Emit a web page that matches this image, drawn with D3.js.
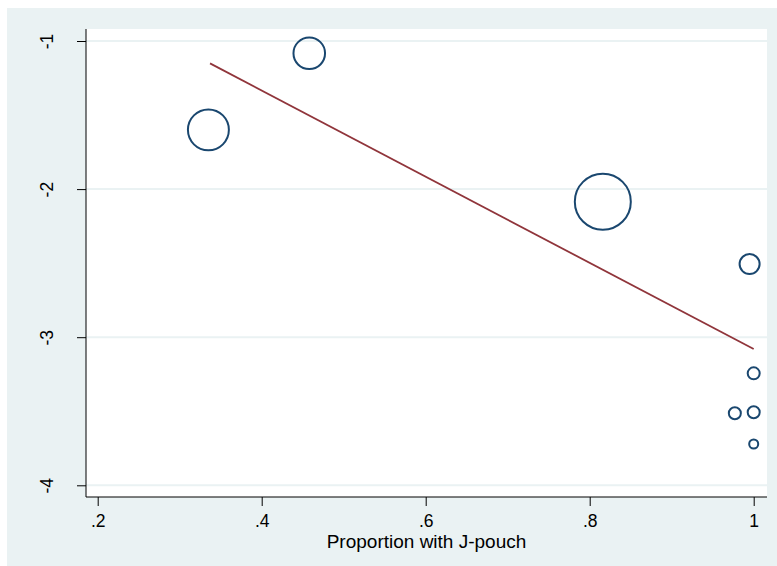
<!DOCTYPE html>
<html lang="en">
<head>
  <meta charset="UTF-8">
  <title>Proportion with J-pouch</title>
  <style>
    html, body { margin: 0; padding: 0; background: #fff; }
    svg { display: block; }
  </style>
</head>
<body>
  <svg id="chart" width="777" height="566"></svg>
  <script src="https://cdn.jsdelivr.net/npm/d3@7/dist/d3.min.js"></script>
  <script>
  // study points
  var propJpouch = [0.335, 0.458, 0.816, 0.995, 1.0, 0.977, 1.0, 1.0];
  var effect     = [-1.60, -1.083, -2.085, -2.506, -3.244, -3.514, -3.507, -3.721];
  var weight     = [535, 318, 1000, 128, 46, 46, 46, 26];

  // fitted line ends
  var fitX = [0.337, 1.0];
  var fitY = [-1.151, -3.080];

  var xTicks = [0.2, 0.4, 0.6, 0.8, 1];
  var yTicks = [-1, -2, -3, -4];
  var xTitle = 'Proportion with J-pouch';

  var width = 777, height = 566;
  var plot = { left: 86, right: 767, top: 29, bottom: 497 };
  var font = 'Arial, "Liberation Sans", sans-serif';

  var svg = d3.select('#chart');

  // outer graph region
  svg.append('rect')
    .attr('x', 7).attr('y', 8)
    .attr('width', width - 7).attr('height', height - 8)
    .attr('fill', '#eaf2f3');

  // plot region
  svg.append('rect')
    .attr('x', plot.left).attr('y', plot.top)
    .attr('width', plot.right - plot.left).attr('height', plot.bottom - plot.top)
    .attr('fill', '#ffffff');

  var x = d3.scaleLinear().domain([0.2, 1]).range([97.7, 753.7]);
  var y = d3.scaleLinear().domain([-1, -4]).range([41, 485.3]);
  var r = d3.scaleSqrt().domain([0, 1000]).range([0, 28]);

  // gridlines
  svg.append('g')
    .selectAll('line')
    .data(yTicks)
    .enter()
    .append('line')
    .attr('x1', plot.left).attr('x2', plot.right)
    .attr('y1', d => y(d)).attr('y2', d => y(d))
    .attr('stroke', '#eaf2f3')
    .attr('stroke-width', 2);

  // y axis
  var yAxis = svg.append('g')
    .attr('transform', `translate(${plot.left},0)`)
    .call(d3.axisLeft(y).tickValues(yTicks).tickSize(9).tickFormat(d3.format('d')));
  yAxis.select('.domain').remove();
  yAxis.append('line')
    .attr('x1', 0).attr('x2', 0)
    .attr('y1', plot.top).attr('y2', plot.bottom)
    .attr('stroke', '#000').attr('stroke-width', 1);
  yAxis.selectAll('.tick line').attr('stroke', '#000');
  yAxis.selectAll('.tick text')
    .attr('x', 0).attr('dy', null)
    .attr('transform', 'translate(-39,0) rotate(-90)')
    .attr('text-anchor', 'middle')
    .attr('dominant-baseline', 'central')
    .attr('font-family', font)
    .attr('font-size', 17.5)
    .attr('fill', '#000')
    .text(d => String(d));

  // x axis
  var xAxis = svg.append('g')
    .attr('transform', `translate(0,${plot.bottom})`)
    .call(d3.axisBottom(x).tickValues(xTicks).tickSize(9)
      .tickFormat(d => d === 1 ? '1' : d3.format('.1f')(d).replace(/^0/, '')));
  xAxis.select('.domain').remove();
  xAxis.append('line')
    .attr('x1', plot.left).attr('x2', plot.right)
    .attr('y1', 0).attr('y2', 0)
    .attr('stroke', '#000').attr('stroke-width', 1);
  xAxis.selectAll('.tick line').attr('stroke', '#000');
  xAxis.selectAll('.tick text')
    .attr('y', 30).attr('dy', null)
    .attr('font-family', font)
    .attr('font-size', 17.5)
    .attr('fill', '#000');

  svg.append('text')
    .attr('x', (plot.left + plot.right) / 2)
    .attr('y', 548)
    .attr('text-anchor', 'middle')
    .attr('font-family', font)
    .attr('font-size', 19)
    .attr('fill', '#000')
    .text(xTitle);

  // weighted circles
  var points = propJpouch.map((p, i) => ({ x: p, y: effect[i], w: weight[i] }));
  svg.append('g')
    .selectAll('circle')
    .data(points)
    .enter()
    .append('circle')
    .attr('cx', d => x(d.x))
    .attr('cy', d => y(d.y))
    .attr('r', d => r(d.w))
    .attr('fill', 'none')
    .attr('stroke', '#1a476f')
    .attr('stroke-width', 2);

  // fitted line
  var line = d3.line().x(d => x(d[0])).y(d => y(d[1]));
  svg.append('path')
    .attr('d', line(fitX.map((v, i) => [v, fitY[i]])))
    .attr('fill', 'none')
    .attr('stroke', '#90353b')
    .attr('stroke-width', 1.8);
  </script>
</body>
</html>
